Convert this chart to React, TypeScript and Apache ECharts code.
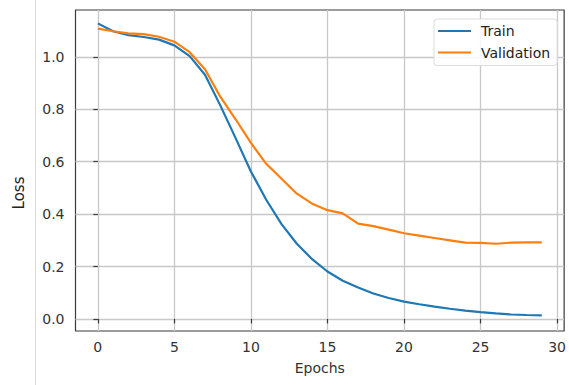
import React, { useEffect, useRef } from "react";
import * as echarts from "echarts";

const epochs = [0,1,2,3,4,5,6,7,8,9,10,11,12,13,14,15,16,17,18,19,20,21,22,23,24,25,26,27,28,29];
const trainLoss = [1.128,1.098,1.083,1.076,1.066,1.044,1.003,0.932,0.815,0.69,0.563,0.455,0.362,0.287,0.228,0.181,0.146,0.12,0.097,0.08,0.066,0.056,0.047,0.039,0.032,0.026,0.021,0.017,0.015,0.014];
const valLoss = [1.108,1.098,1.09,1.087,1.077,1.058,1.018,0.953,0.848,0.762,0.672,0.592,0.535,0.478,0.44,0.415,0.403,0.364,0.354,0.341,0.327,0.318,0.309,0.3,0.291,0.29,0.287,0.291,0.292,0.292];
const xTicks = [0, 5, 10, 15, 20, 25, 30];
const yTicks = [0, 0.2, 0.4, 0.6, 0.8, 1.0];

const FONT = "DejaVu Sans";

export default function App() {
  const ref = useRef<HTMLDivElement>(null);
  useEffect(() => {
    const chart = echarts.init(ref.current!, null, { renderer: "svg" });
    chart.setOption({
      animation: false,
      backgroundColor: "#ffffff",
      textStyle: { fontFamily: FONT },
      grid: {
        left: 75.5, top: 10, width: 492.5, height: 321,
        show: true, borderColor: "#3a3a3a", borderWidth: 1.2, backgroundColor: "#ffffff",
      },
      legend: {
        orient: "vertical",
        left: 434, top: 19,
        icon: "rect",
        itemWidth: 33, itemHeight: 2.2,
        itemGap: 5.5,
        padding: [4, 7, 5, 4],
        borderColor: "#dcdcdc", borderWidth: 1, borderRadius: 3,
        backgroundColor: "rgba(255,255,255,0.85)",
        textStyle: { fontFamily: FONT, fontSize: 14, color: "#222", lineHeight: 16, padding: [0, 0, 0, 5] },
        data: ["Train", "Validation"],
      },
      xAxis: {
        type: "value", min: -1.458, max: 30.46,
        axisLine: { show: false },
        axisTick: { show: true, customValues: xTicks, length: 4.5, lineStyle: { color: "#3a3a3a", width: 1.2 } },
        axisLabel: { customValues: xTicks, margin: 9, fontFamily: FONT, fontSize: 14, color: "#333", formatter: (v: number) => String(Math.round(v)) },
        splitLine: { show: true, lineStyle: { color: "#c8c8c8", width: 1.3 } },
        name: "Epochs", nameLocation: "middle", nameGap: 30,
        nameTextStyle: { fontFamily: FONT, fontSize: 14, color: "#333" },
      },
      yAxis: {
        type: "value", min: -0.046, max: 1.179,
        axisLine: { show: false },
        axisTick: { show: true, customValues: yTicks, length: 4.5, lineStyle: { color: "#3a3a3a", width: 1.2 } },
        axisLabel: { customValues: yTicks, margin: 11, fontFamily: FONT, fontSize: 14, color: "#333", formatter: (v: number) => v.toFixed(1) },
        splitLine: { show: true, lineStyle: { color: "#c8c8c8", width: 1.3 } },
      },
      graphic: [
        { type: "line", shape: { x1: 35.5, y1: 0, x2: 35.5, y2: 385 }, style: { stroke: "#dadada", lineWidth: 1 } },
        { type: "text", x: 19, y: 193, rotation: Math.PI / 2, style: { text: "Loss", fontFamily: FONT, fontSize: 15, fill: "#222", align: "center", verticalAlign: "middle" } },
      ],
      series: [
        {
          name: "Train", type: "line", showSymbol: false, symbol: "none",
          data: epochs.map((e, i) => [e, trainLoss[i]]),
          lineStyle: { color: "#1f77b4", width: 2.2 }, itemStyle: { color: "#1f77b4" },
        },
        {
          name: "Validation", type: "line", showSymbol: false, symbol: "none",
          data: epochs.map((e, i) => [e, valLoss[i]]),
          lineStyle: { color: "#ff7f0e", width: 2.2 }, itemStyle: { color: "#ff7f0e" },
        },
      ],
    });
    return () => chart.dispose();
  }, []);
  return <div ref={ref} style={{ width: 569, height: 385, position: "absolute", left: 0, top: 0 }} />;
}
